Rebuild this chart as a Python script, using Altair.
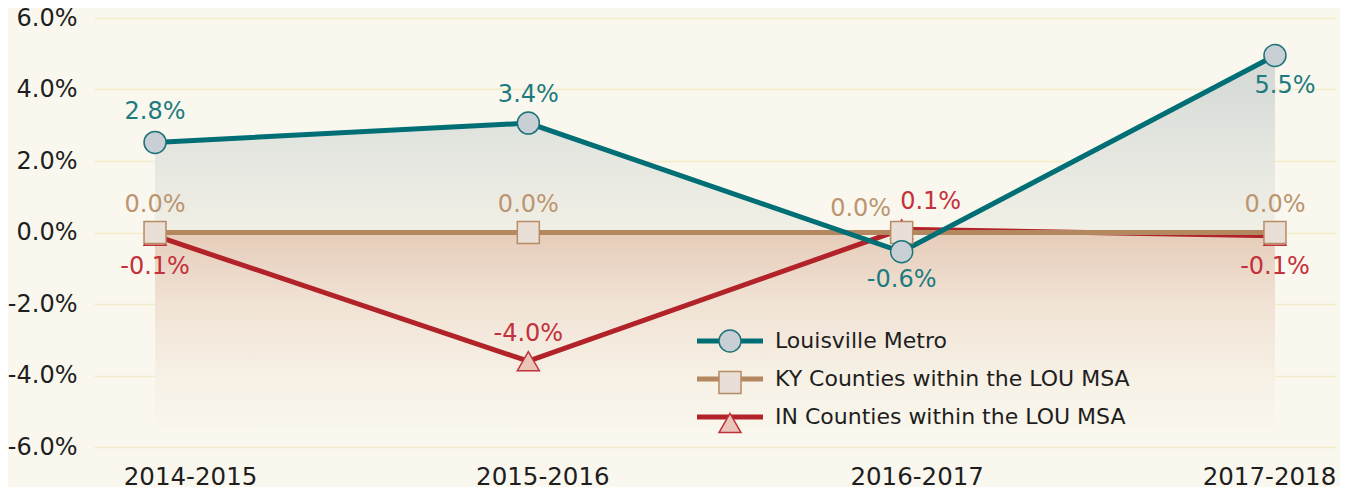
import altair as alt
import pandas as pd

# ---------------- data ----------------
PERIODS = ["2014-2015", "2015-2016", "2016-2017", "2017-2018"]
SERIES = ["Louisville Metro", "KY Counties within the LOU MSA", "IN Counties within the LOU MSA"]

# plotted positions (percent), as read against the y axis of the picture
LOU_VALUES = [2.52, 3.06, -0.54, 4.95]
KY_VALUES = [0.0, 0.0, 0.0, 0.0]
IN_VALUES = [-0.09, -3.6, 0.09, -0.09]

# printed data labels
LOU_LABELS = ["2.8%", "3.4%", "-0.6%", "5.5%"]
KY_LABELS = ["0.0%", "0.0%", "0.0%", "0.0%"]
IN_LABELS = ["-0.1%", "-4.0%", "0.1%", "-0.1%"]

Y_TICKS = [-6, -4, -2, 0, 2, 4, 6]

# ---------------- styles ----------------
FONT = "DejaVu Sans"
BG = "#FAF8EE"
GRID = "#F3ECCB"
TEXT = "#1E1E1E"
LINE_COLORS = ["#006E75", "#B3875F", "#B22329"]
MARK_STROKES = ["#1C7379", "#B78B64", "#C0313A"]
MARK_FILLS = ["#C8D0D6", "#E9DFD6", "#EAC6BA"]
SHAPES = ["circle", "square", "triangle-up"]
MARK_SIZES = [484, 484, 760]
LABEL_COLORS = ["#1D7B80", "#BC9571", "#C4303B"]
LABEL_OFFSETS = [
    [(0, -30), (0, -28), (0, 28), (10, 30)],
    [(0, -28), (0, -28), (-41, -24), (0, -28)],
    [(0, 31), (0, -27), (29, -27), (0, 31)],
]
X_LABEL_SHIFTS = [35, 14, 15, -6]
AREA_FLOOR = -5.5
DRAW_ORDER = [2, 1, 0]  # IN, KY, Louisville (Louisville on top)

values = [LOU_VALUES, KY_VALUES, IN_VALUES]
labels = [LOU_LABELS, KY_LABELS, IN_LABELS]

rows = []
for si in DRAW_ORDER:
    for pi, p in enumerate(PERIODS):
        rows.append({"period": p, "series": SERIES[si],
                     "value": values[si][pi], "label": labels[si][pi], "si": si, "pi": pi})
df = pd.DataFrame(rows)

label_offset = {
    "condition": [{"test": f"datum.value === '{p}'", "value": s}
                  for p, s in zip(PERIODS, X_LABEL_SHIFTS)],
    "value": 0,
}

X = alt.X("period:N", sort=PERIODS,
          scale=alt.Scale(type="point", padding=0.1635),
          axis=alt.Axis(title=None, labelAngle=0, domain=False, ticks=False, grid=False,
                        labelFont=FONT, labelFontSize=24.5, labelColor=TEXT, labelPadding=18,
                        labelOffset=label_offset))
Y = alt.Y("value:Q", scale=alt.Scale(domain=[-6, 6], nice=False, zero=False),
          axis=alt.Axis(title=None, values=Y_TICKS, domain=False, ticks=False, tickSize=0,
                        labelExpr="(datum.value < 0 ? '-' : '') + format(abs(datum.value), '.1f') + '%'",
                        labelFont=FONT, labelFontSize=24, labelColor=TEXT, labelPadding=17,
                        gridColor=GRID, gridWidth=1.5))

base = alt.Chart(df)

area_lou = base.transform_filter(alt.datum.si == 0).mark_area(
    color=alt.Gradient(gradient="linear", x1=0, x2=0, y1=0, y2=1,
                       stops=[alt.GradientStop(color="#D2D8D5", offset=0),
                              alt.GradientStop(color="#E3E5DF", offset=0.45),
                              alt.GradientStop(color="#F4F2E7", offset=1)]),
    interpolate="linear"
).encode(x=X, y=Y, y2=alt.datum(0))

area_below = base.transform_filter(alt.datum.si == 1).mark_area(
    color=alt.Gradient(gradient="linear", x1=0, x2=0, y1=0, y2=1,
                       stops=[alt.GradientStop(color="#E6CCB9", offset=0),
                              alt.GradientStop(color="#F0E2D4", offset=0.35),
                              alt.GradientStop(color="#F7F1E6", offset=0.75),
                              alt.GradientStop(color="#F9F6EB", offset=1)])
).encode(x=X, y=Y, y2=alt.datum(AREA_FLOOR))

# legend sample line: a custom path three symbol-radii long on each side.
line_legend = alt.Legend(title=None, orient="none", legendX=622.5, legendY=309.5,
                         values=SERIES,
                         symbolType="M-3,0H3", symbolSize=484, symbolStrokeWidth=5,
                         symbolFillColor="transparent",
                         labelFont=FONT, labelFontSize=22, labelColor=TEXT, labelOffset=31.5,
                         rowPadding=13, padding=0, labelLimit=600)

lines = base.mark_line(strokeWidth=5).encode(
    x=X, y=Y,
    color=alt.Color("series:N",
                    scale=alt.Scale(domain=SERIES[::-1], range=LINE_COLORS[::-1]),
                    legend=line_legend),
    order=alt.Order("pi:Q"),
)

# marker legend drawn over the sample lines (symbols only)
mark_legend = alt.Legend(title=None, orient="none", legendX=624, legendY=311,
                         symbolStrokeWidth=1.5, symbolSize=484,
                         labelFont=FONT, labelFontSize=22, labelExpr="''", labelOffset=12,
                         rowPadding=13.5, padding=0, labelLimit=600)

points = base.mark_point(filled=True, opacity=1, strokeWidth=1.5).encode(
    x=X, y=Y,
    shape=alt.Shape("series:N", scale=alt.Scale(domain=SERIES, range=SHAPES), legend=mark_legend),
    fill=alt.Fill("series:N", scale=alt.Scale(domain=SERIES, range=MARK_FILLS), legend=mark_legend),
    stroke=alt.Stroke("series:N", scale=alt.Scale(domain=SERIES, range=MARK_STROKES), legend=mark_legend),
    size=alt.Size("series:N", scale=alt.Scale(domain=SERIES, range=MARK_SIZES), legend=None),
)

texts = []
for si in range(3):
    for pi in range(4):
        dx, dy = LABEL_OFFSETS[si][pi]
        texts.append(
            base.transform_filter((alt.datum.si == si) & (alt.datum.pi == pi))
            .mark_text(dx=dx, dy=dy, font=FONT, fontSize=24, color=LABEL_COLORS[si],
                       baseline="middle", align="center")
            .encode(x=X, y=Y, text="label:N")
        )

chart = alt.layer(area_below, area_lou, lines, points, *texts).resolve_legend(
    color="independent", shape="independent", fill="independent", stroke="independent"
).properties(
    width=1242, height=429,
    autosize=alt.AutoSizeParams(type="none"),
    padding={"left": 86, "top": 10, "right": 4, "bottom": 40},
    background=BG,
).configure_view(stroke=None)

chart.save("out.html", embed_options={"renderer": "svg", "actions": False})
